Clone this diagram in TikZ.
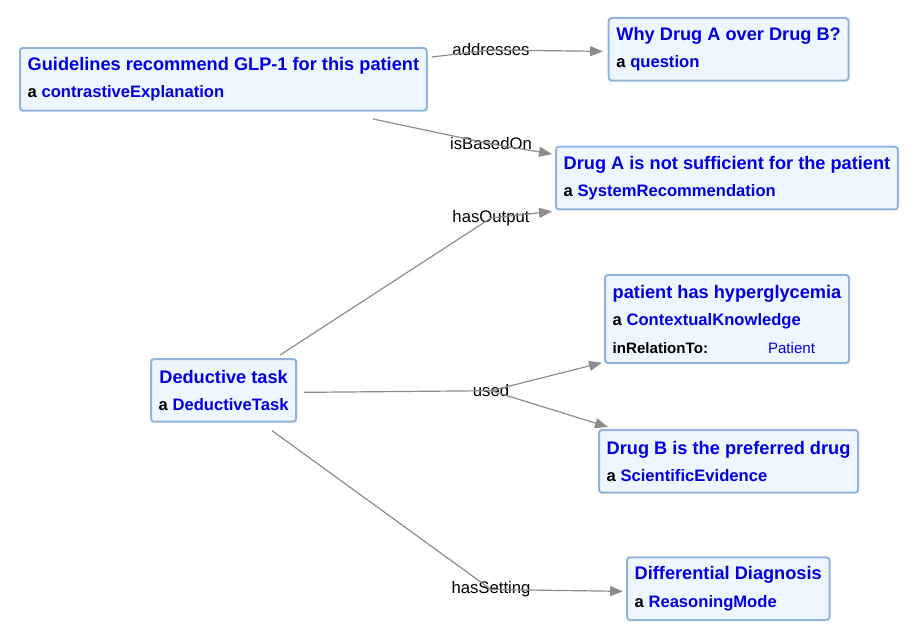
\documentclass[tikz,border=0pt]{standalone}
\usepackage{fontspec}
\setmainfont{Liberation Sans}
\usetikzlibrary{arrows.meta,calc}

\definecolor{boxfill}{RGB}{238,246,255}
\definecolor{boxline}{RGB}{146,180,218}
\definecolor{linkgray}{RGB}{140,140,140}
\definecolor{termblue}{RGB}{0,0,225}

\newcommand{\nodetitle}[1]{{\fontsize{18.2}{27.5}\selectfont\color{termblue}#1}}
\newcommand{\nodeterm}[1]{{\color{termblue}#1}}

\begin{document}
\begin{tikzpicture}[%
    x=1pt, y=-1pt,
    resource/.style={
        draw=boxline,
        fill=boxfill,
        line width=2pt,
        rounded corners=3pt,
        anchor=north west,
        align=left,
        inner xsep=7.7pt,
        inner ysep=0pt,
        minimum height=62.7pt,
        font=\fontsize{16.6}{27.5}\selectfont\bfseries
        },
    edgelabel/.style={
        inner sep=0pt,
        font=\fontsize{16.7}{20}\selectfont
        },
    link/.style={
        draw=linkgray,
        line width=1.2pt,
        -{Triangle[length=13pt,width=10pt]}
        }
]
\useasboundingbox (0,0) rectangle (918,636);

% resources
\node[resource] (expl) at (19,47)
    {\nodetitle{Guidelines recommend GLP-1 for this patient}\\ a \nodeterm{contrastiveExplanation}};
\node[resource] (why) at (607.7,17)
    {\nodetitle{Why Drug A over Drug B?}\\ a \nodeterm{question}};
\node[resource] (drugA) at (555,145.7)
    {\nodetitle{Drug A is not sufficient for the patient}\\ a \nodeterm{SystemRecommendation}};
\node[resource, minimum height=88pt] (patient) at (604,274)
    {\nodetitle{patient has hyperglycemia}\\ a \nodeterm{ContextualKnowledge}\\
     {\fontsize{15.1}{27.5}\selectfont\makebox[155.3pt][l]{inRelationTo:}\mdseries\color{termblue}Patient}};
\node[resource] (drugB) at (598,429)
    {\nodetitle{Drug B is the preferred drug}\\ a \nodeterm{ScientificEvidence}};
\node[resource, align=center] (task) at (150,358)
    {\nodetitle{Deductive task}\\ a \nodeterm{DeductiveTask}};
\node[resource] (diff) at (626,556.3)
    {\nodetitle{Differential Diagnosis}\\ a \nodeterm{ReasoningMode}};

% edge labels
\node[edgelabel] (addresses) at (491,50) {addresses};
\node[edgelabel] (isBasedOn) at (491,144) {isBasedOn};
\node[edgelabel] (hasOutput) at (491,218) {hasOutput};
\node[edgelabel] (used) at (491,390.7) {used};
\node[edgelabel] (hasSetting) at (491,589.5) {hasSetting};

% loose ends
\coordinate (expl-a) at ($(expl.north east)+(4,10)$);
\coordinate (expl-b) at ($(expl.south)+(149.6,7.3)$);
\coordinate (task-a) at ($(task.north)+(56.5,-3)$);
\coordinate (task-b) at ($(task.east)+(7,2)$);
\coordinate (task-c) at ($(task.south)+(48.5,8)$);
\coordinate (why-in) at ($(why.west)+(-4.7,2)$);
\coordinate (drugA-in1) at ($(drugA.north west)+(-3,8.3)$);
\coordinate (drugA-in2) at ($(drugA.south west)+(-3,1)$);
\coordinate (patient-in) at ($(patient.south west)+(-2,-1.3)$);
\coordinate (drugB-in) at ($(drugB.north west)+(10,-2)$);
\coordinate (diff-in) at ($(diff.west)+(-3,2.7)$);

\draw[link] (expl-a) -- (addresses.center) -- (why-in);
\draw[link] (expl-b) -- (isBasedOn.center) -- (drugA-in1);
\draw[link] (task-a) -- (hasOutput.center) -- (drugA-in2);
\draw[link] (task-b) -- (used.center) -- (patient-in);
\draw[link] (used.center) -- (drugB-in);
\draw[link] (task-c) -- (hasSetting.center) -- (diff-in);

\end{tikzpicture}
\end{document}
